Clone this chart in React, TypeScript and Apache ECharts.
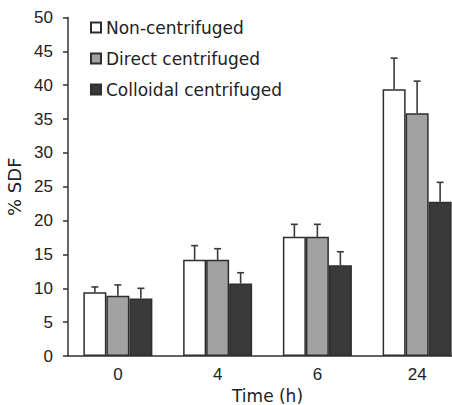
import React, { useEffect, useRef } from "react";
import * as echarts from "echarts";

const categories = ["0", "4", "6", "24"];
const seriesNames = ["Non-centrifuged", "Direct centrifuged", "Colloidal centrifuged"];
const nonCentrifuged = [9.4, 14.2, 17.6, 39.4];
const nonCentrifugedErr = [0.8, 2.1, 1.85, 4.6];
const directCentrifuged = [8.9, 14.2, 17.6, 35.85];
const directCentrifugedErr = [1.6, 1.65, 1.85, 4.75];
const colloidalCentrifuged = [8.5, 10.7, 13.4, 22.8];
const colloidalCentrifugedErr = [1.5, 1.6, 2.0, 2.85];
const fills = ["#ffffff", "#a2a2a2", "#3a3a3a"];

const BAR_W = 23;

export default function App() {
  const ref = useRef<HTMLDivElement>(null);
  useEffect(() => {
    document.body.style.margin = "0";
    if (!ref.current) return;
    const chart = echarts.init(ref.current, undefined, { renderer: "svg" });
    const values = [nonCentrifuged, directCentrifuged, colloidalCentrifuged];
    const errs = [nonCentrifugedErr, directCentrifugedErr, colloidalCentrifugedErr];
    const barSeries: any[] = values.map((v, i) => ({
      name: seriesNames[i],
      type: "bar",
      data: v,
      barWidth: BAR_W,
      barGap: "0%",
      itemStyle: { color: fills[i], borderColor: "#2e2e2e", borderWidth: 1.5 },
      z: 2,
    }));
    const errSeries: any[] = values.map((v, i) => ({
      name: "err" + i,
      type: "custom",
      data: v.map((val, j) => [j, val, val + errs[i][j]]),
      z: 1,
      renderItem: (params: any, api: any) => {
        const base = api.coord([api.value(0), api.value(1)]);
        const top = api.coord([api.value(0), api.value(2)]);
        const x = base[0] + (i - 1) * BAR_W;
        const style = { stroke: "#3a3a3a", lineWidth: 1.6 };
        return {
          type: "group",
          children: [
            { type: "line", shape: { x1: x, y1: base[1], x2: x, y2: top[1] }, style },
            { type: "line", shape: { x1: x - 3.5, y1: top[1], x2: x + 3.5, y2: top[1] }, style },
          ],
        };
      },
    }));
    chart.setOption({
      animation: false,
      grid: { left: 68, right: 0, top: 17.5, bottom: 49, outerBoundsMode: "none", containLabel: false },
      legend: {
        data: seriesNames,
        orient: "vertical",
        left: 90,
        top: 19,
        padding: 0,
        itemWidth: 10,
        itemHeight: 10,
        itemGap: 14,
        icon: "rect",
        textStyle: { fontFamily: "DejaVu Sans", fontSize: 17, color: "#222", lineHeight: 17 },
      },
      xAxis: {
        type: "category",
        data: categories,
        name: "Time (h)",
        nameLocation: "middle",
        nameGap: 26,
        nameTextStyle: { fontFamily: "DejaVu Sans", fontSize: 17, color: "#222", lineHeight: 17 },
        axisLine: { lineStyle: { color: "#333", width: 1.5 } },
        axisTick: { length: 4, lineStyle: { color: "#333", width: 1.5 } },
        axisLabel: { margin: 10, fontFamily: "Liberation Sans", fontSize: 17, color: "#222" },
      },
      yAxis: {
        type: "value",
        min: 0,
        max: 50,
        interval: 5,
        name: "% SDF",
        nameLocation: "middle",
        nameGap: 41,
        nameTextStyle: { fontFamily: "DejaVu Sans", fontSize: 18, color: "#222" },
        axisLine: { show: true, lineStyle: { color: "#333", width: 1.5 } },
        axisTick: { show: true, length: 5, lineStyle: { color: "#333", width: 1.5 } },
        splitLine: { show: false },
        axisLabel: { margin: 15, fontFamily: "Liberation Sans", fontSize: 17, color: "#222" },
      },
      series: [...errSeries, ...barSeries],
    });
    return () => chart.dispose();
  }, []);
  return (
    <div style={{ width: 452, height: 405, overflow: "hidden", background: "#fff" }}>
      <div ref={ref} style={{ width: 467, height: 405 }} />
    </div>
  );
}
